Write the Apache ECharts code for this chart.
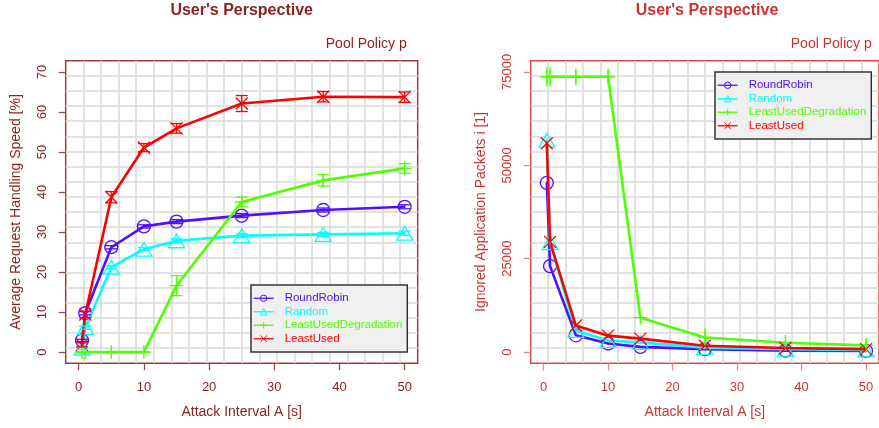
<!DOCTYPE html>
<html><head><meta charset="utf-8">
<script src="https://cdn.jsdelivr.net/npm/echarts@6/dist/echarts.min.js"></script>
<style>html,body{margin:0;padding:0;background:#fff}#c{width:879px;height:428px}</style>
</head><body><div id="c"></div>
<script>
// ---------- data ----------
const attackInterval = [0.5, 1, 5, 10, 15, 25, 37.5, 50];
const seriesNames = ['RoundRobin', 'Random', 'LeastUsedDegradation', 'LeastUsed'];
const xTicks = [0, 10, 20, 30, 40, 50];
const speedTicks = [0, 10, 20, 30, 40, 50, 60, 70];
const packetTicks = [0, 25000, 50000, 75000];

// Left: Average Request Handling Speed [%]
const speedRoundRobin = [2.9, 9.7, 26.2, 31.4, 32.6, 34.1, 35.5, 36.3];
const speedRandom = [1.0, 6.1, 21.2, 25.7, 27.8, 29.1, 29.4, 29.7];
const speedLeastUsedDegradation = [0, 0, 0, 0, 16.6, 37.5, 42.9, 45.9];
const speedLeastUsed = [1.8, 9.4, 38.7, 51.1, 55.9, 62.1, 63.8, 63.7];
const speedErrRoundRobin = [0.3, 0.4, 0.4, 0.4, 0.5, 0.5, 0.5, 0.5];
const speedErrRandom = [0.3, 0.4, 0.4, 0.4, 0.5, 0.5, 0.5, 0.5];
const speedErrLeastUsedDegradation = [0, 0, 0, 0, 2.5, 1.2, 1.4, 1.2];
const speedErrLeastUsed = [0.5, 0.8, 1.4, 1.0, 1.2, 2.0, 1.3, 1.3];

// Right: Ignored Application Packets i [1]
const packetsRoundRobin = [45300, 23000, 4500, 2300, 1400, 800, 400, 300];
const packetsRandom = [56700, 29300, 5800, 3100, 2600, 1200, 800, 600];
const packetsLeastUsedDegradation = [73700, 73700, 73700, 73700, 9200, 3900, 2500, 1800];
const packetsLeastUsed = [55900, 29500, 7100, 4400, 3600, 1700, 1100, 800];
const packetsErrRoundRobin = [400, 400, 200, 200, 200, 100, 100, 100];
const packetsErrRandom = [400, 400, 200, 200, 200, 100, 100, 100];
const packetsErrLeastUsedDegradation = [2600, 2600, 2200, 2200, 800, 2400, 2100, 1800];
const packetsErrLeastUsed = [500, 500, 300, 300, 300, 200, 200, 200];

// ---------- styling ----------
const colors = ['#5010ff', '#00ffff', '#50ff00', '#ff0000'];
const symbols = [
  'path://M1,0A1,1,0,1,1,-1,0A1,1,0,1,1,1,0Z',
  'path://M0,-1L0.866,0.5L-0.866,0.5Z',
  'path://M0,-1L0,1M-1,0L1,0',
  'path://M-1,-1L1,1M-1,1L1,-1'
];
const symbolSizes = [13, 16, 14, 12];
const FONT = '"Liberation Sans", Arial, Helvetica, sans-serif';
const dark = '#8B2323', light = '#CD3333';

function zip(xs, ys) { return xs.map((x, i) => [x, ys[i]]); }
function zip3(xs, ys, es) { return xs.map((x, i) => [x, ys[i], es[i]]); }

function errRender(color, cap) {
  return function (params, api) {
    const x = api.value(0), y = api.value(1), e = api.value(2);
    const p1 = api.coord([x, y - e]), p2 = api.coord([x, y + e]);
    const st = { stroke: color, lineWidth: 1.3, fill: null };
    const children = [
      { type: 'line', shape: { x1: p1[0], y1: p1[1], x2: p2[0], y2: p2[1] }, style: st }
    ];
    if (cap > 0) {
      children.push({ type: 'line', shape: { x1: p1[0] - cap, y1: p1[1], x2: p1[0] + cap, y2: p1[1] }, style: st });
      children.push({ type: 'line', shape: { x1: p2[0] - cap, y1: p2[1], x2: p2[0] + cap, y2: p2[1] }, style: st });
    }
    return { type: 'group', children: children };
  };
}

function mainX(grid, col) {
  return {
    gridIndex: grid, type: 'value', min: -2, max: 52, position: 'bottom',
    axisLine: { show: false, onZero: false },
    axisTick: { show: true, length: 7, customValues: xTicks, lineStyle: { color: col.tick, width: 1.3 } },
    axisLabel: { customValues: xTicks, margin: 18, fontSize: 13, fontFamily: FONT, color: col.text, formatter: v => String(v) },
    splitLine: { show: false },
    name: 'Attack Interval A [s]', nameLocation: 'middle', nameGap: 42,
    nameTextStyle: { fontSize: 14, fontFamily: FONT, color: col.text }
  };
}
function gridAxis(grid) {
  return {
    gridIndex: grid, type: 'value', min: 0, max: 20, interval: 1, show: true,
    axisLine: { show: false, onZero: false }, axisTick: { show: false }, axisLabel: { show: false },
    splitLine: { show: true, showMinLine: false, showMaxLine: false, lineStyle: { color: '#d9d9d9', width: 1.5 } }
  };
}
function mainY(grid, col, min, max, ticks, name) {
  return {
    gridIndex: grid, type: 'value', min: min, max: max, position: 'left',
    axisLine: { show: false, onZero: false },
    axisTick: { show: true, length: 7, customValues: ticks, lineStyle: { color: col.tick, width: 1.3 } },
    axisLabel: { customValues: ticks, rotate: 90, margin: 17, fontSize: 13, fontFamily: FONT, color: col.text, formatter: v => String(v) },
    splitLine: { show: false },
    name: name, nameLocation: 'middle', nameGap: 43,
    nameTextStyle: { fontSize: 14, fontFamily: FONT, color: col.text }
  };
}

const leftCol = { text: dark, tick: '#9b4a4a' };
const rightCol = { text: light, tick: '#e28a8a' };

const leftVals = [speedRoundRobin, speedRandom, speedLeastUsedDegradation, speedLeastUsed];
const leftErrs = [speedErrRoundRobin, speedErrRandom, speedErrLeastUsedDegradation, speedErrLeastUsed];
const rightVals = [packetsRoundRobin, packetsRandom, packetsLeastUsedDegradation, packetsLeastUsed];
const rightErrs = [packetsErrRoundRobin, packetsErrRandom, packetsErrLeastUsedDegradation, packetsErrLeastUsed];

const series = [];
function addPanel(vals, errs, xi, yi, cap) {
  vals.forEach((v, k) => {
    series.push({
      type: 'custom', name: seriesNames[k] + ' err', xAxisIndex: xi, yAxisIndex: yi,
      renderItem: errRender(colors[k], cap), data: zip3(attackInterval, v, errs[k]), z: 3, silent: true
    });
  });
  vals.forEach((v, k) => {
    series.push({
      type: 'line', name: seriesNames[k], xAxisIndex: xi, yAxisIndex: yi,
      data: zip(attackInterval, v),
      symbol: symbols[k], symbolSize: symbolSizes[k], symbolKeepAspect: true, showSymbol: true,
      lineStyle: { color: colors[k], width: 2.6 },
      itemStyle: { color: 'rgba(0,0,0,0)', borderColor: colors[k], borderWidth: 1.3 },
      emphasis: { disabled: true }, z: 2 + k * 0.01
    });
  });
}
addPanel(leftVals, leftErrs, 0, 0, 6);
addPanel(rightVals, rightErrs, 2, 2, 0);

function legend(left, top) {
  return {
    orient: 'vertical', left: left, top: top,
    padding: [6.5, 5, 6.5, 2], itemWidth: 20, itemHeight: 8, itemGap: 0,
    backgroundColor: '#f0f0f0', borderColor: '#333333', borderWidth: 1.5, borderRadius: 0,
    lineStyle: { width: 1.3 }, itemStyle: { borderWidth: 1 },
    selectedMode: false,
    data: seriesNames.map((n, k) => ({ name: n, textStyle: { color: colors[k] } })),
    textStyle: { fontSize: 11.5, lineHeight: 13.5, fontFamily: FONT, padding: [0, 0, 0, 6] }
  };
}

const option = {
  animation: false,
  backgroundColor: '#ffffff',
  grid: [
    { left: 65.7, top: 60.7, width: 352, height: 302.6, show: true, borderColor: '#9a3c3c', borderWidth: 1.5, backgroundColor: 'transparent' },
    { left: 530.7, top: 60.7, width: 352.6, height: 302.6, show: true, borderColor: '#d84a4a', borderWidth: 1.5, backgroundColor: 'transparent' }
  ],
  xAxis: [mainX(0, leftCol), gridAxis(0), mainX(1, rightCol), gridAxis(1)],
  yAxis: [
    mainY(0, leftCol, -2.8, 72.8, speedTicks, 'Average Request Handling Speed [%]'), gridAxis(0),
    mainY(1, rightCol, -3000, 78000, packetTicks, 'Ignored Application Packets i [1]'), gridAxis(1)
  ],
  legend: [legend(251, 285), legend(715, 72)],
  graphic: [
    { type: 'text', x: 241.7, y: 11, style: { text: "User's Perspective", align: 'center', verticalAlign: 'middle', font: 'bold 16px ' + FONT, fill: dark } },
    { type: 'text', x: 707, y: 11, style: { text: "User's Perspective", align: 'center', verticalAlign: 'middle', font: 'bold 16px ' + FONT, fill: light } },
    { type: 'text', x: 406.7, y: 44, style: { text: 'Pool Policy p', align: 'right', verticalAlign: 'middle', font: '14px ' + FONT, fill: dark } },
    { type: 'text', x: 871.7, y: 44, style: { text: 'Pool Policy p', align: 'right', verticalAlign: 'middle', font: '14px ' + FONT, fill: light } }
  ],
  series: series
};
const chart = echarts.init(document.getElementById('c'), null, { renderer: 'canvas' });
chart.setOption(option);
</script></body></html>
